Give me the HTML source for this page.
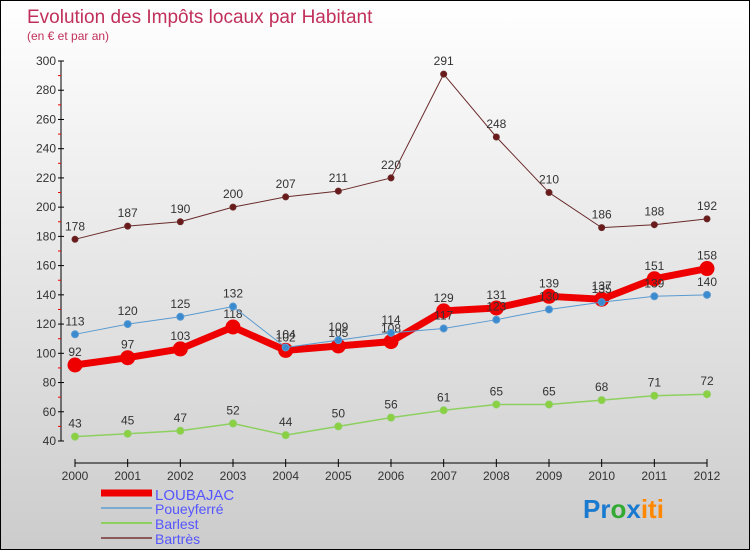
<!DOCTYPE html>
<html><head><meta charset="utf-8"><style>
body{margin:0}
#c{width:748px;height:548px;border:1px solid #000;background:linear-gradient(#fff,#ccc);position:relative;font-family:"Liberation Sans",sans-serif}
</style></head><body>
<div id="c">
<svg width="748" height="548" id="s">
<text x="26" y="22" font-size="19" fill="#c0305a">Evolution des Impôts locaux par Habitant</text>
<text x="26" y="39" font-size="12" fill="#c0305a">(en € et par an)</text>
<g id="axes"></g><g id="series"></g>
<g>
<line x1="100" y1="492" x2="151" y2="492" stroke="#e00" stroke-width="7"/><text x="154" y="499" font-size="15" fill="#55f">LOUBAJAC</text>
<line x1="100" y1="507" x2="151" y2="507" stroke="#7aaad0" stroke-width="2"/><text x="154" y="513" font-size="14" fill="#55f">Poueyferré</text>
<line x1="100" y1="522" x2="151" y2="522" stroke="#8dd060" stroke-width="2"/><text x="154" y="528" font-size="14" fill="#55f">Barlest</text>
<line x1="100" y1="537" x2="151" y2="537" stroke="#8a5a5a" stroke-width="2"/><text x="154" y="543" font-size="14" fill="#55f">Bartrès</text>
</g>
<text x="582" y="517" font-size="26" font-weight="bold"><tspan fill="#1a7ad0">Pr</tspan><tspan fill="#3a3">o</tspan><tspan fill="#1a7ad0">x</tspan><tspan fill="#f80">iti</tspan></text>
</svg></div>
<script>
const years=[2000,2001,2002,2003,2004,2005,2006,2007,2008,2009,2010,2011,2012];
const loubajac=[92,97,103,118,102,105,108,129,131,139,137,151,158];
const poueyferre=[113,120,125,132,104,109,114,117,123,130,135,139,140];
const barlest=[43,45,47,52,44,50,56,61,65,65,68,71,72];
const bartres=[178,187,190,200,207,211,220,291,248,210,186,188,192];
const yTicks=[40,60,80,100,120,140,160,180,200,220,240,260,280,300];
const NS="http://www.w3.org/2000/svg";
const X=i=>74+i*(632/(years.length-1));
const Y=v=>440-(v-40)*(380/260);
function mk(t,a,p){const e=document.createElementNS(NS,t);for(const k in a)e.setAttribute(k,a[k]);p.appendChild(e);return e;}
const ax=document.getElementById('axes');
mk('line',{x1:60,y1:Y(300),x2:60,y2:Y(40),stroke:'#000'},ax);
mk('line',{x1:74,y1:462,x2:706,y2:462,stroke:'#000'},ax);
yTicks.forEach(v=>{
 const y=Y(v);
 mk('line',{x1:57,y1:y,x2:63,y2:y,stroke:'#000'},ax);
 if(v<300)mk('line',{x1:57,y1:Y(v+10),x2:60,y2:Y(v+10),stroke:'#e00'},ax);
 const t=mk('text',{x:55,y:y+4,'font-size':12,fill:'#333','text-anchor':'end'},ax);t.textContent=v;
 
 
});
years.forEach((yr,i)=>{
 mk('line',{x1:X(i),y1:458,x2:X(i),y2:466,stroke:'#000'},ax);
 const t=mk('text',{x:X(i),y:479,'font-size':12,fill:'#333','text-anchor':'middle'},ax);t.textContent=yr;
 
 
});
const sg=document.getElementById('series');
function draw(data,color,w,r,name,dot){
 const g=mk('g',{},sg);
 
 
 mk('polyline',{points:data.map((v,i)=>X(i)+','+Y(v)).join(' '),fill:'none',stroke:color,'stroke-width':w,'stroke-linejoin':'round'},g);
 data.forEach((v,i)=>{
  const c=mk('circle',{cx:X(i),cy:Y(v),r:r,fill:dot,stroke:color,'stroke-width':1},g);
  
  
  const t=mk('text',{x:X(i),y:Y(v)-9,'font-size':12,fill:'#333','text-anchor':'middle'},g);t.textContent=v;
  
  
 });
}
draw(bartres,'#6a2a2a',1,3,'series-bartres','#6a1a1a');
draw(barlest,'#8dd060',1.5,3.5,'series-barlest','#8ad040');
draw(loubajac,'#e00',7,7,'series-loubajac','#e00');
draw(poueyferre,'#5a9ad0',1,3.5,'series-poueyferre','#3a8ad0');
</script>
</body></html>
